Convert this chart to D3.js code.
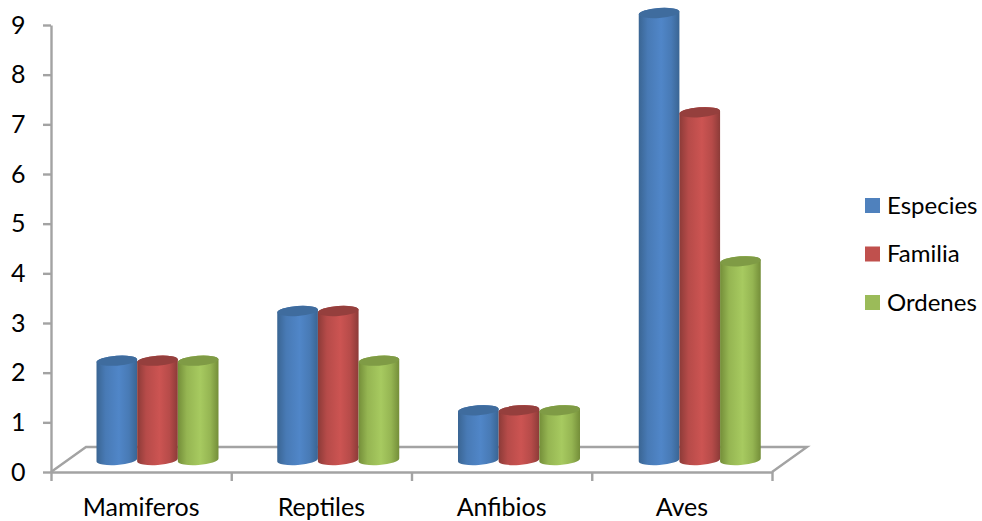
<!DOCTYPE html>
<html>
<head>
<meta charset="utf-8">
<script src="https://cdn.jsdelivr.net/npm/d3@7"></script>
<style>
    html, body { margin: 0; padding: 0; background: #fff; }
    svg { display: block; }
    text { font-family: Lato, "Open Sans", sans-serif; fill: #000; }
    .axis path, .axis line { stroke: #a3a3a3; stroke-width: 2.4; }
</style>
</head>
<body>
<div id="chart"></div>
<script>
// Data
const categories = ['Mamiferos', 'Reptiles', 'Anfibios', 'Aves'];
const seriesNames = ['Especies', 'Familia', 'Ordenes'];
const especies = [2, 3, 1, 9];
const familia = [2, 3, 1, 7];
const ordenes = [2, 2, 1, 4];
const yTicks = [0, 1, 2, 3, 4, 5, 6, 7, 8, 9];

const seriesValues = [especies, familia, ordenes];
const colors = [
    { edge: '#3a6593', mid: '#5086c8', top: '#3f6c9e' },
    { edge: '#8c3b38', mid: '#cc5452', top: '#953f3d' },
    { edge: '#748e39', mid: '#a7ca60', top: '#7f9b45' }
];

// Configuration
const config = {
    width: 982,
    height: 521,
    left: 51,
    right: 772,
    top: 25,
    bottom: 472,
    depthX: 35,
    depthY: 25,
    barLift: 12,
    ry: 5,
    tilt: -4
};

const svg = d3.select('#chart')
    .append('svg')
    .attr('width', config.width)
    .attr('height', config.height);

const y = d3.scaleLinear().domain([0, 9]).range([config.bottom, config.top]);
const x = d3.scaleBand().domain(categories).range([config.left, config.right]);
const edges = d3.scaleLinear().domain([0, 4]).range([config.left, config.right]);
// bars step a little wider than the axis because of the 3d projection
const xGroup = d3.scaleBand().domain(categories).range([config.left, config.left + 723]);
const xBar = d3.scaleBand().domain(seriesNames).range([45.5, 167.5]);

// Gradients for the cylinder bodies
const defs = svg.append('defs');
colors.forEach((c, i) => {
    const grad = defs.append('linearGradient').attr('id', `body${i}`);
    grad.append('stop').attr('offset', '0%').attr('stop-color', c.edge);
    grad.append('stop').attr('offset', '22%').attr('stop-color', d3.interpolateRgb(c.edge, c.mid)(0.65));
    grad.append('stop').attr('offset', '55%').attr('stop-color', c.mid);
    grad.append('stop').attr('offset', '80%').attr('stop-color', d3.interpolateRgb(c.edge, c.mid)(0.65));
    grad.append('stop').attr('offset', '100%').attr('stop-color', c.edge);
});

// Floor
const floor = d3.line();
svg.append('path')
    .attr('d', floor([
        [config.left, config.bottom],
        [config.left + config.depthX, config.bottom - config.depthY],
        [config.right + config.depthX, config.bottom - config.depthY],
        [config.right, config.bottom]
    ]))
    .attr('fill', 'none')
    .attr('stroke', '#a3a3a3')
    .attr('stroke-width', 2.4);

// Axes
svg.append('g')
    .attr('class', 'axis')
    .attr('transform', `translate(${config.left},0)`)
    .call(d3.axisLeft(y).tickValues(yTicks).tickFormat(d3.format('d')).tickSize(8).tickSizeOuter(0).tickPadding(16))
    .call(g => g.selectAll('text').style('font-size', '25px').attr('text-anchor', 'start').attr('x', -40));

svg.append('g')
    .attr('class', 'axis')
    .attr('transform', `translate(0,${config.bottom})`)
    .call(d3.axisBottom(edges).ticks(4).tickFormat('').tickSize(9).tickSizeOuter(0));

svg.append('g')
    .attr('transform', `translate(0,${config.bottom})`)
    .call(d3.axisBottom(x).tickSize(0).tickPadding(26))
    .call(g => g.select('.domain').remove())
    .call(g => g.selectAll('text').style('font-size', '25px'));

// Cylinders, one group per series so later series sit in front
function cylinderPath(w, topY, baseY) {
    const r = w / 2;
    const rise = r * Math.tan(-config.tilt * Math.PI / 180);
    return `M${-r},${topY + rise}`
        + `L${-r},${baseY + rise}`
        + `A${r},${config.ry} ${config.tilt} 0 0 ${r},${baseY - rise}`
        + `L${r},${topY - rise}`
        + `A${r},${config.ry} ${config.tilt} 0 0 ${-r},${topY + rise}Z`;
}

categories.forEach((cat, c) => {
    seriesNames.forEach((name, s) => {
        const value = seriesValues[s][c];
        const cx = xGroup(cat) + xBar(name) + xBar.bandwidth() / 2;
        const topY = y(value) - config.barLift;
        const baseY = y(0) - config.barLift;
        const g = svg.append('g').attr('transform', `translate(${cx},0)`);
        g.append('path')
            .attr('d', cylinderPath(xBar.bandwidth(), topY, baseY))
            .attr('fill', `url(#body${s})`);
        g.append('ellipse')
            .attr('cy', topY)
            .attr('rx', xBar.bandwidth() / 2)
            .attr('ry', config.ry)
            .attr('transform', `rotate(${config.tilt} 0 ${topY})`)
            .attr('fill', colors[s].top);
    });
});

// Legend
const legendY = d3.scalePoint().domain(seriesNames).range([205.5, 302.5]);
const legend = svg.selectAll('.legend')
    .data(seriesNames)
    .join('g')
    .attr('class', 'legend')
    .attr('transform', d => `translate(865,${legendY(d)})`);

legend.append('rect')
    .attr('y', -7.5)
    .attr('width', 15)
    .attr('height', 15)
    .attr('fill', (d, i) => ['#4f81bd', '#c0504d', '#9bbb59'][i]);

legend.append('text')
    .attr('x', 22)
    .attr('y', 8)
    .style('font-size', '24px')
    .text(d => d);
</script>
</body>
</html>
